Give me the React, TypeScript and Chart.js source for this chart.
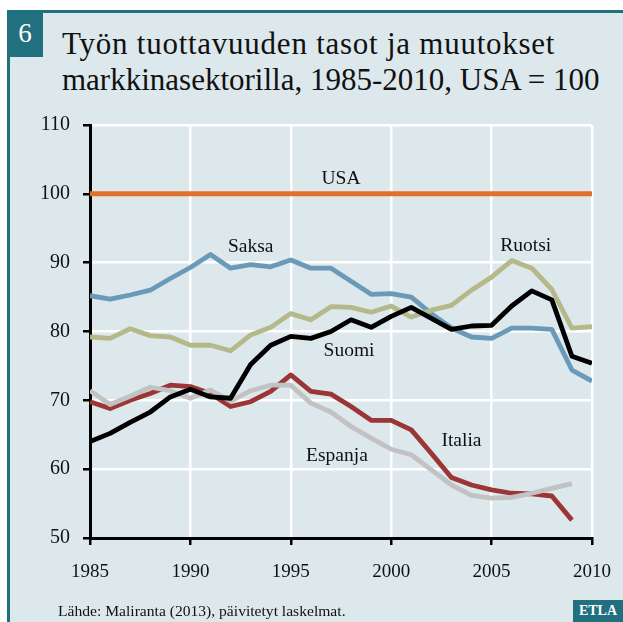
import React, { useEffect, useRef } from "react";
import { Chart, registerables } from "chart.js";

Chart.register(...registerables);

const years = [1985, 1986, 1987, 1988, 1989, 1990, 1991, 1992, 1993, 1994, 1995, 1996, 1997, 1998, 1999, 2000, 2001, 2002, 2003, 2004, 2005, 2006, 2007, 2008, 2009, 2010];

const usa = [100, 100, 100, 100, 100, 100, 100, 100, 100, 100, 100, 100, 100, 100, 100, 100, 100, 100, 100, 100, 100, 100, 100, 100, 100, 100];
const saksa = [85.2, 84.7, 85.3, 86.0, 87.7, 89.3, 91.2, 89.2, 89.7, 89.4, 90.4, 89.2, 89.2, 87.3, 85.4, 85.5, 85.0, 82.6, 80.5, 79.2, 79.0, 80.5, 80.5, 80.3, 74.4, 72.8];
const ruotsi = [79.2, 79.0, 80.4, 79.4, 79.2, 78.0, 78.0, 77.2, 79.5, 80.6, 82.6, 81.7, 83.6, 83.5, 82.8, 83.7, 82.1, 83.1, 83.8, 86.0, 87.9, 90.3, 89.2, 86.1, 80.5, 80.7];
const suomi = [64.0, 65.2, 66.8, 68.3, 70.5, 71.6, 70.5, 70.3, 75.2, 78.0, 79.3, 79.0, 80.0, 81.7, 80.6, 82.2, 83.5, 81.9, 80.3, 80.8, 80.9, 83.7, 85.9, 84.6, 76.4, 75.4];
const italia = [69.8, 68.8, 70.0, 71.0, 72.2, 72.0, 71.0, 69.1, 69.8, 71.3, 73.7, 71.3, 70.9, 69.1, 67.1, 67.1, 65.7, 62.3, 58.8, 57.7, 57.0, 56.5, 56.4, 56.1, 52.6, null];
const espanja = [71.4, 69.4, 70.6, 71.9, 71.4, 70.3, 71.5, 69.9, 71.4, 72.2, 72.2, 69.6, 68.3, 66.2, 64.5, 62.9, 62.1, 59.9, 57.7, 56.2, 55.8, 55.9, 56.5, 57.2, 57.9, null];

const yTicks = [50, 60, 70, 80, 90, 100, 110];
const xTicks = [1985, 1990, 1995, 2000, 2005, 2010];

const seriesLabels = ["USA", "Saksa", "Ruotsi", "Suomi", "Italia", "Espanja"];
const labelYears = [1997.5, 1993, 2006.7, 1997.9, 2003.5, 1997.3];
const labelValues = [102.2, 92.3, 92.5, 77.2, 64.1, 61.9];

const titleLines = ["Työn tuottavuuden tasot ja muutokset", "markkinasektorilla, 1985-2010, USA = 100"];
const sourceText = "Lähde: Maliranta (2013), päivitetyt laskelmat.";

const SERIF = "'Liberation Serif', 'DejaVu Serif', serif";
const TEAL = "#21707f";
const PANEL = "#dce8ec";

const toPoints = (vals: (number | null)[]) => years.map((y, i) => ({ x: y, y: vals[i] }));

const labelPlugin = {
  id: "seriesLabels",
  afterDatasetsDraw(chart: any) {
    const { ctx, scales } = chart;
    ctx.save();
    ctx.fillStyle = "#111";
    ctx.font = `19.5px ${SERIF}`;
    ctx.textAlign = "center";
    ctx.textBaseline = "middle";
    seriesLabels.forEach((t, i) => {
      ctx.fillText(t, scales.x.getPixelForValue(labelYears[i]), scales.y.getPixelForValue(labelValues[i]));
    });
    ctx.restore();
  },
};

export default function App() {
  const ref = useRef<HTMLCanvasElement>(null);
  useEffect(() => {
    if (!ref.current) return;
    const ds = (label: string, data: (number | null)[], color: string, width: number, order: number) => ({
      label,
      data: toPoints(data),
      borderColor: color,
      backgroundColor: color,
      borderWidth: width,
      pointRadius: 0,
      tension: 0,
      fill: false,
      order,
      borderJoinStyle: "round" as const,
      borderCapStyle: "butt" as const,
    });
    const chart = new Chart(ref.current, {
      type: "line",
      data: {
        datasets: [
          ds("USA", usa, "#e2702b", 5, 6),
          ds("Saksa", saksa, "#6a9ab7", 4.8, 5),
          ds("Ruotsi", ruotsi, "#b5b98a", 4.8, 3),
          ds("Italia", italia, "#9c3536", 4.8, 4),
          ds("Espanja", espanja, "#c2c2c2", 4.8, 2),
          ds("Suomi", suomi, "#000000", 4.8, 1),
        ],
      },
      options: {
        animation: false,
        responsive: false,
        maintainAspectRatio: false,
        layout: { padding: { left: 0, right: 31, top: 125, bottom: 34 } },
        plugins: { legend: { display: false }, tooltip: { enabled: false } },
        scales: {
          x: {
            type: "linear",
            min: 1985,
            max: 2010,
            afterBuildTicks: (s: any) => { s.ticks = xTicks.map((v) => ({ value: v })); },
            afterFit: (s: any) => { s.height = 50; },
            ticks: { color: "#111", font: { family: SERIF, size: 19, lineHeight: 1.7 }, padding: 11, callback: (v: any) => String(v) },
            grid: { color: "#ffffff", lineWidth: 2.5, tickColor: "#000", tickLength: 7, tickWidth: 2.5 },
            border: { color: "#000", width: 3 },
          },
          y: {
            type: "linear",
            min: 50,
            max: 110,
            afterBuildTicks: (s: any) => { s.ticks = yTicks.map((v) => ({ value: v })); },
            afterFit: (s: any) => { s.width = 90; },
            ticks: { color: "#111", font: { family: SERIF, size: 20 }, padding: 13 },
            grid: { color: "#ffffff", lineWidth: 2.5, tickColor: "#000", tickLength: 7, tickWidth: 2.5 },
            border: { color: "#000", width: 3 },
          },
        },
      },
      plugins: [labelPlugin],
    });
    return () => chart.destroy();
  }, []);

  const titleSpacing = ["0.75px", "0px"];

  return (
    <div style={{ position: "fixed", left: 0, top: 0, width: 623, height: 622, background: "#fff", overflow: "hidden" }}>
      <div style={{ position: "absolute", left: 7, top: 10, width: 616, height: 612, background: PANEL, borderTop: `3px solid ${TEAL}`, borderLeft: `3px solid ${TEAL}`, boxSizing: "border-box" }} />
      <div style={{ position: "absolute", left: 7, top: 10, width: 36, height: 47, background: TEAL, color: "#fff", fontFamily: SERIF, fontSize: 27, display: "flex", alignItems: "center", justifyContent: "center" }}>6</div>
      <div style={{ position: "absolute", left: 62, top: 26, fontFamily: SERIF, fontSize: 31, lineHeight: "36px", color: "#111", whiteSpace: "nowrap" }}>
        {titleLines.map((l, i) => <div key={i} style={{ letterSpacing: titleSpacing[i] }}>{l}</div>)}
      </div>
      <canvas ref={ref} width={623} height={622} style={{ position: "absolute", left: 0, top: 0, width: 623, height: 622 }} />
      <div style={{ position: "absolute", left: 58, top: 602, fontFamily: SERIF, fontSize: 15.6, color: "#111", whiteSpace: "nowrap" }}>{sourceText}</div>
      <div style={{ position: "absolute", left: 573, top: 600, width: 50, height: 22, background: TEAL, color: "#fff", fontFamily: SERIF, fontWeight: "bold", fontSize: 14, display: "flex", alignItems: "center", justifyContent: "center" }}>ETLA</div>
    </div>
  );
}
